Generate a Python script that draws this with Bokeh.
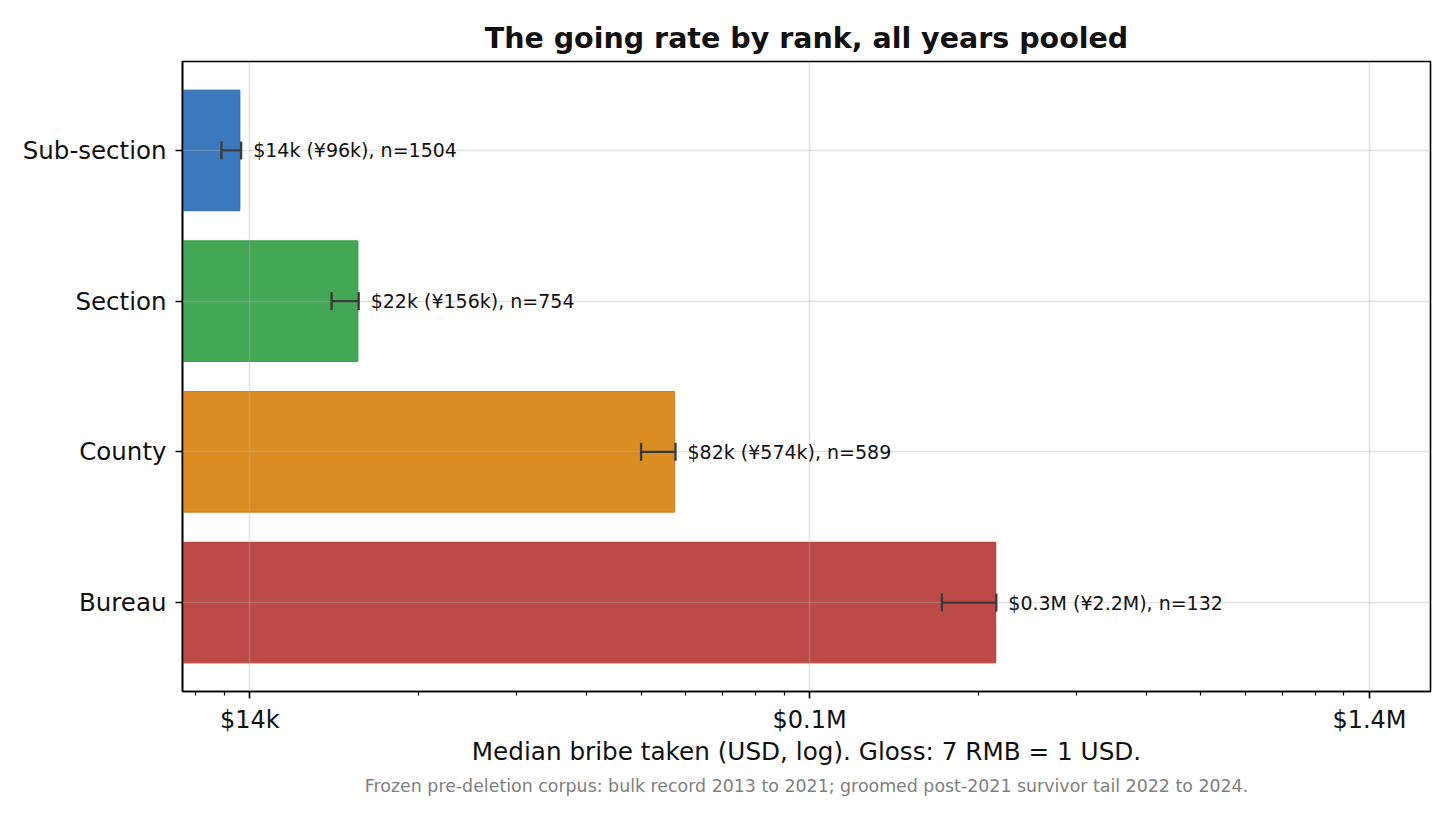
from bokeh.plotting import figure
from bokeh.models import (Range1d, FixedTicker, CustomJSTickFormatter, ColumnDataSource,
                          Whisker, TeeHead, Title)
from bokeh.embed import file_html
from bokeh.resources import INLINE
from bokeh.core.properties import value

# ---------------- data ----------------
ranks = ["Sub-section", "Section", "County", "Bureau"]
rank_pos = [3, 2, 1, 0]
median_rmb = [96000, 156000, 574000, 2150000]
ci_low_rmb = [89000, 140000, 500000, 1723000]
ci_high_rmb = [96500, 156500, 576000, 2155000]
n_cases = [1504, 754, 589, 132]
usd_text = ["$14k", "$22k", "$82k", "$0.3M"]
rmb_text = ["¥96k", "¥156k", "¥574k", "¥2.2M"]
bar_colors = ["#3b78bc", "#44a755", "#dc8d22", "#bc4a46"]
edge_colors = ["#2f6aae", "#379a48", "#d27f14", "#b43a36"]
RMB_PER_USD = 7
tick_rmb = [1e5, 1e6, 1e7]
tick_text = ["$14k", "$0.1M", "$1.4M"]

title_text = "The going rate by rank, all years pooled"
xlabel_text = "Median bribe taken (USD, log). Gloss: 7 RMB = 1 USD."
foot_text = ("Frozen pre-deletion corpus: bulk record 2013 to 2021; "
             "groomed post-2021 survivor tail 2022 to 2024.")

# ---------------- derived ----------------
median_usd = [v / RMB_PER_USD for v in median_rmb]
low_usd = [v / RMB_PER_USD for v in ci_low_rmb]
high_usd = [v / RMB_PER_USD for v in ci_high_rmb]
labels = [f"{u} ({r}), n={n}" for u, r, n in zip(usd_text, rmb_text, n_cases)]
tick_usd = [v / RMB_PER_USD for v in tick_rmb]
minor_usd = [k * 10 ** e / RMB_PER_USD for e in range(4, 8) for k in range(1, 10)]

src = ColumnDataSource(dict(
    y=rank_pos, rank=ranks, med=median_usd, lo=low_usd, hi=high_usd,
    left=[1.0] * len(ranks), fill=bar_colors, edge=edge_colors, label=labels,
))

FONT = "DejaVu Sans"

p = figure(width=1448, height=815, x_axis_type="log",
           x_range=Range1d(10832, 1836200), y_range=Range1d(-0.59, 3.59),
           output_backend="svg", toolbar_location=None,
           min_border_left=182, min_border_right=18, min_border_top=61,
           min_border_bottom=124, background_fill_color="white",
           border_fill_color="white")

p.hbar(y="y", left="left", right="med", height=0.8, source=src,
       fill_color="fill", line_color="edge", line_width=1)

wh = Whisker(source=src, base="y", lower="lo", upper="hi", dimension="width",
             line_color="#3a3a3a", line_width=2.3, level="overlay",
             lower_head=TeeHead(size=18, line_color="#3a3a3a", line_width=2.3),
             upper_head=TeeHead(size=18, line_color="#3a3a3a", line_width=2.3))
p.add_layout(wh)

tr = p.text(x="hi", y="y", text="label", source=src, x_offset=12,
            text_baseline="middle", text_align="left", text_font=value(FONT),
            text_font_size="19px", text_color="#111111")
tr.level = "overlay"

# axes
xa = p.xaxis[0]
xa.ticker = FixedTicker(ticks=tick_usd, minor_ticks=minor_usd)
xa.formatter = CustomJSTickFormatter(args=dict(vals=tick_usd, labs=tick_text), code="""
    for (let j = 0; j < vals.length; j++) {
        if (Math.abs(Math.log10(tick / vals[j])) < 1e-6) return labs[j];
    }
    return "";
""")
xa.axis_label = xlabel_text
xa.axis_label_text_font = FONT
xa.axis_label_text_font_size = "24.7px"
xa.axis_label_text_font_style = "normal"
xa.axis_label_text_color = "#111111"
xa.axis_label_standoff = 0

ya = p.yaxis[0]
ya.ticker = FixedTicker(ticks=rank_pos, minor_ticks=[])
ya.major_label_overrides = {pos: name for pos, name in zip(rank_pos, ranks)}

for ax in (xa, ya):
    ax.axis_line_color = "black"
    ax.axis_line_width = 1.6
    ax.major_tick_line_color = "black"
    ax.major_tick_line_width = 1.6
    ax.major_tick_out = 7
    ax.major_tick_in = 0
    ax.minor_tick_line_color = "black"
    ax.minor_tick_line_width = 1.2
    ax.minor_tick_out = 4
    ax.minor_tick_in = 0
    ax.major_label_text_font = FONT
    ax.major_label_text_font_size = "24px"
    ax.major_label_text_color = "#111111"
    ax.major_label_standoff = 7
ya.major_label_text_font_size = "24.5px"
ya.major_label_standoff = 9

p.outline_line_color = "black"
p.outline_line_width = 1.6
p.outline_line_alpha = 1.0

for g in (p.xgrid[0], p.ygrid[0]):
    g.grid_line_color = "#b0b0b0"
    g.grid_line_alpha = 0.35
    g.grid_line_width = 1.6
    g.level = "guide"
p.ygrid[0].ticker = FixedTicker(ticks=rank_pos)

p.title.text = title_text
p.title.align = "center"
p.title.text_font = FONT
p.title.text_font_size = "28.5px"
p.title.text_font_style = "bold"
p.title.text_color = "#111111"
p.title.standoff = 14

foot = Title(text=foot_text, align="center", text_font=FONT, text_font_size="17.4px",
             text_font_style="normal", text_color="#808080", standoff=11)
p.add_layout(foot, "below")

open("out.html", "w").write(file_html(p, INLINE))
